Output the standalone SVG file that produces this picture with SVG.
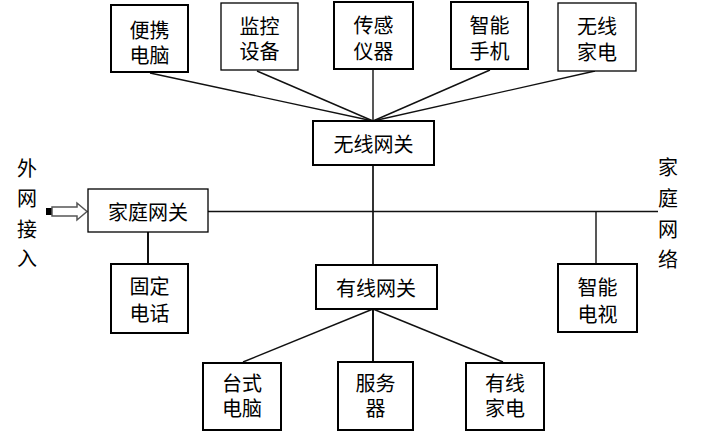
<svg xmlns="http://www.w3.org/2000/svg" width="701" height="432" viewBox="0 0 701 432">
<style>
.box{fill:#fff;stroke:#000;stroke-width:2}
.thin{stroke-width:1.3}
.t{font-family:"Liberation Sans","Noto Sans CJK SC",sans-serif;font-size:20px;fill:#000;text-anchor:middle;dominant-baseline:central}
.c{stroke:#111;stroke-width:1.4;fill:none}
</style>
<rect width="701" height="432" fill="#fff"/>
<g id="connectors">
<line class="c" x1="150" y1="73" x2="373" y2="121"/>
<line class="c" x1="257" y1="71" x2="373" y2="121"/>
<line class="c" x1="373" y1="69" x2="373" y2="121"/>
<line class="c" x1="490" y1="70" x2="373" y2="121"/>
<line class="c" x1="595" y1="71" x2="373" y2="121"/>
<line class="c" x1="373" y1="165" x2="373" y2="265" style="stroke:#333;stroke-width:2"/>
<line class="c" x1="208" y1="211.5" x2="658" y2="211.5"/>
<line class="c" x1="148" y1="232" x2="148" y2="264" style="stroke-width:2"/>
<line class="c" x1="596" y1="211.5" x2="596" y2="264"/>
<line class="c" x1="373" y1="309" x2="243" y2="362"/>
<line class="c" x1="373" y1="309" x2="373" y2="362" style="stroke-width:2"/>
<line class="c" x1="373" y1="309" x2="503" y2="362"/>
</g>
<g id="arrow">
<rect x="46" y="208" width="6" height="7" fill="#000"/>
<polygon points="52,207 77,207 77,203 87,211.5 77,220 77,216 52,216" fill="#fff" stroke="#555" stroke-width="1.5"/>
</g>
<g id="n-bianxie"><rect class="box" x="111" y="5" width="77" height="67"/><text class="t" x="149.5" y="31">便携</text><text class="t" x="149.5" y="56">电脑</text></g>
<g id="n-jiankong"><rect class="box thin" x="221" y="3" width="77" height="67"/><text class="t" x="259.5" y="27">监控</text><text class="t" x="259.5" y="52">设备</text></g>
<g id="n-chuangan"><rect class="box" x="334" y="2" width="79" height="67"/><text class="t" x="373.5" y="26">传感</text><text class="t" x="373.5" y="52">仪器</text></g>
<g id="n-shouji"><rect class="box" x="451" y="2" width="77" height="67"/><text class="t" x="489.5" y="26">智能</text><text class="t" x="489.5" y="52">手机</text></g>
<g id="n-wxjd"><rect class="box thin" x="558" y="3" width="78" height="68"/><text class="t" x="597" y="27">无线</text><text class="t" x="597" y="53">家电</text></g>
<g id="n-wxwg"><rect class="box" x="313" y="121" width="121" height="44"/><text class="t" x="373.5" y="145">无线网关</text></g>
<g id="n-jtwg"><rect class="box thin" x="88" y="189" width="120" height="43"/><text class="t" x="148" y="213">家庭网关</text></g>
<g id="n-gddh"><rect class="box" x="111" y="264" width="77" height="69"/><text class="t" x="149.5" y="287">固定</text><text class="t" x="149.5" y="314">电话</text></g>
<g id="n-yxwg"><rect class="box" x="316" y="265" width="121" height="44"/><text class="t" x="376" y="289">有线网关</text></g>
<g id="n-znds"><rect class="box" x="558" y="264" width="79" height="68"/><text class="t" x="597.5" y="288">智能</text><text class="t" x="597.5" y="315">电视</text></g>
<g id="n-tsdn"><rect class="box" x="203" y="363" width="78" height="67"/><text class="t" x="242" y="384">台式</text><text class="t" x="242" y="409">电脑</text></g>
<g id="n-fwq"><rect class="box" x="338" y="362" width="75" height="68"/><text class="t" x="375.5" y="384">服务</text><text class="t" x="375.5" y="409">器</text></g>
<g id="n-yxjd"><rect class="box" x="466" y="363" width="78" height="67"/><text class="t" x="505" y="384">有线</text><text class="t" x="505" y="409">家电</text></g>
<g id="label-wai">
<text class="t" x="27" y="169">外</text><text class="t" x="27" y="199">网</text><text class="t" x="27" y="230">接</text><text class="t" x="27" y="259">入</text>
</g>
<g id="label-jtwl">
<text class="t" x="668" y="168">家</text><text class="t" x="668" y="199">庭</text><text class="t" x="668" y="230">网</text><text class="t" x="668" y="260">络</text>
</g>
</svg>
